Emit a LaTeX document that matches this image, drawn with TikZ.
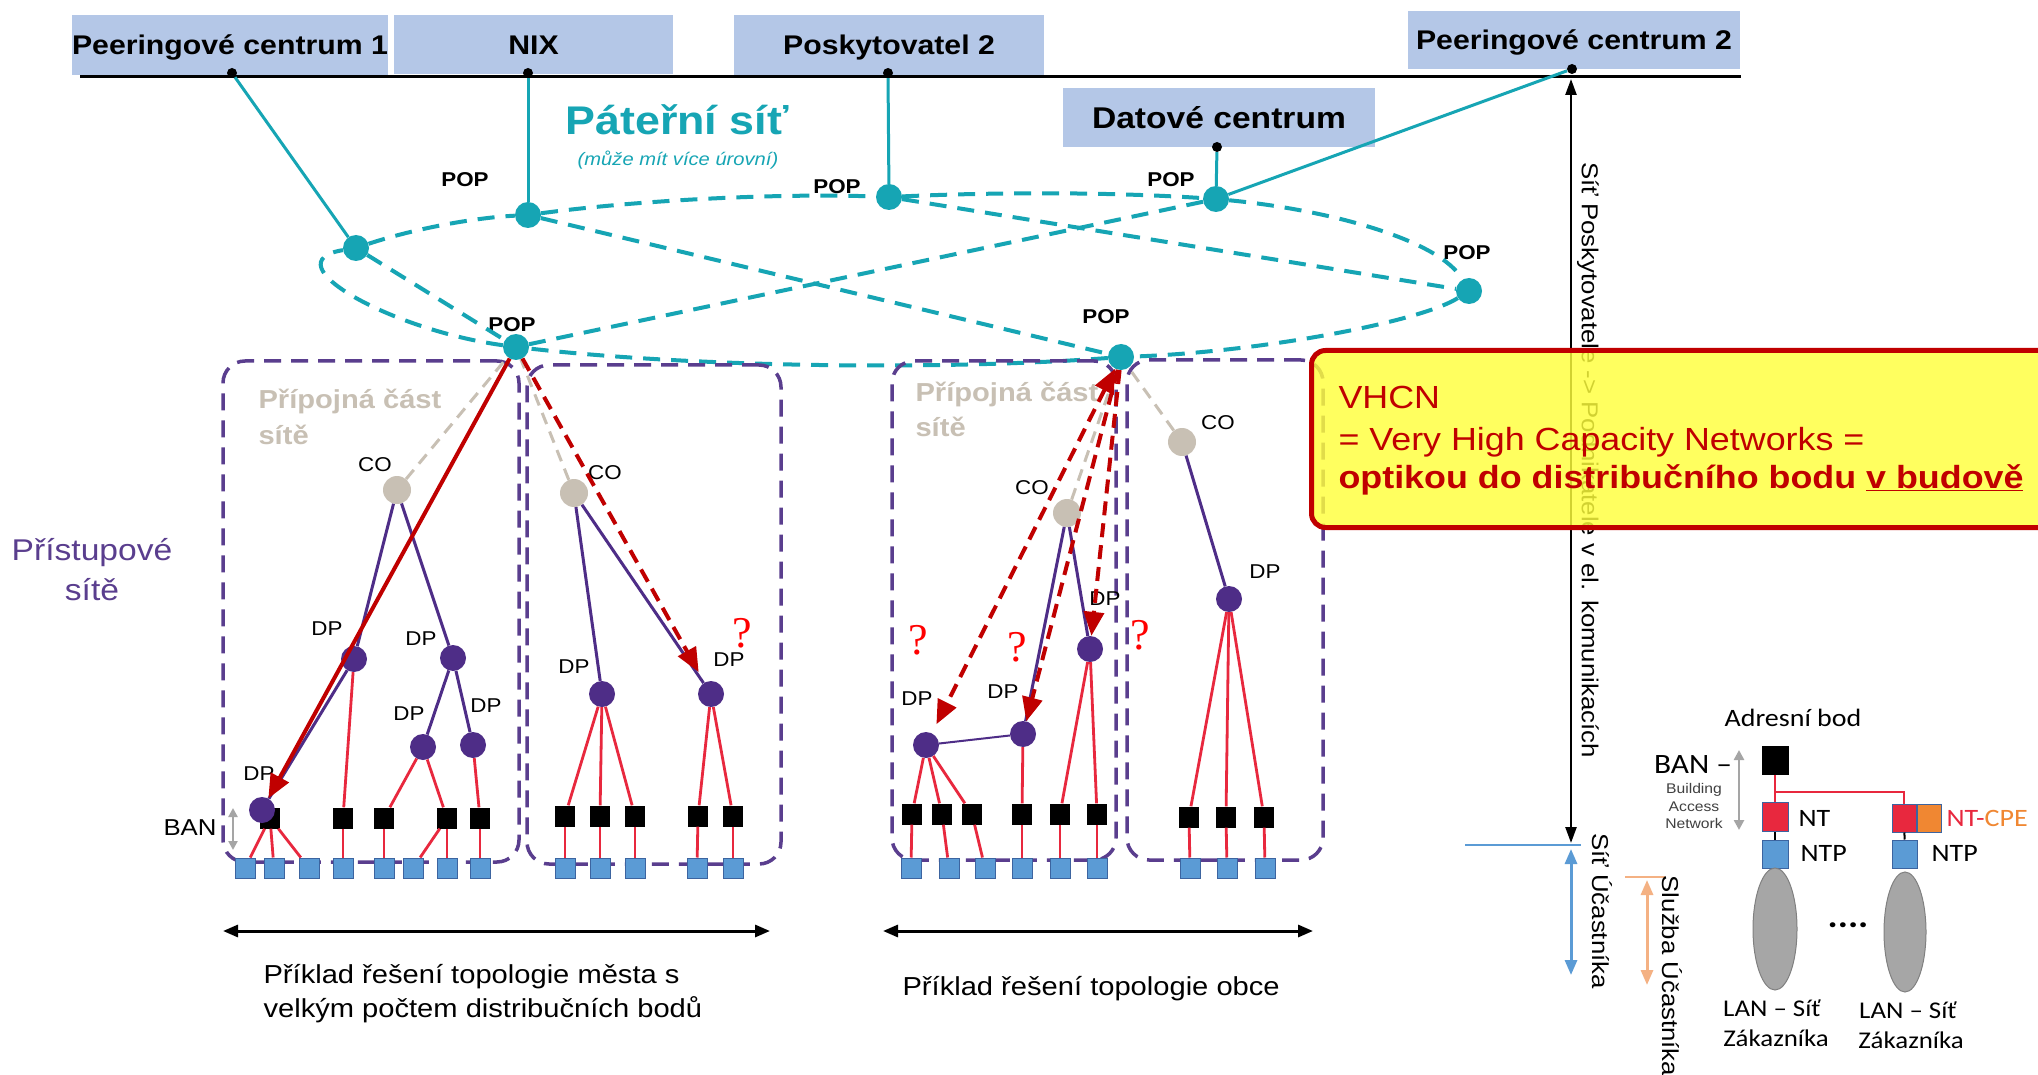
\documentclass[tikz,border=0pt]{standalone}
\usepackage{fontspec}
\setmainfont{Liberation Sans}[FakeStretch=1.12]
\newfontfamily\carl{Carlito}[FakeStretch=1.12]
\newfontfamily\qfont{Liberation Serif}
\usetikzlibrary{arrows.meta,shapes.geometric}
\definecolor{hdrblue}{RGB}{180,199,231}
\definecolor{popteal}{RGB}{22,165,180}
\definecolor{boxpurple}{RGB}{90,62,142}
\definecolor{dppurple}{RGB}{78,45,135}
\definecolor{redline}{RGB}{232,40,62}
\definecolor{darkred}{RGB}{192,0,0}
\definecolor{cobeige}{RGB}{200,192,180}
\definecolor{blsq}{RGB}{91,155,213}
\definecolor{blsqb}{RGB}{60,100,160}
\definecolor{arrgray}{RGB}{165,165,165}
\definecolor{lightorange}{RGB}{244,177,131}
\definecolor{cpeorange}{RGB}{240,135,50}
\definecolor{vyellow}{RGB}{255,255,60}
\definecolor{langray}{RGB}{166,166,166}
\begin{document}
\begin{tikzpicture}[x=1pt,y=-1pt,
  hdr/.style={fill=hdrblue,inner sep=0pt,text height=19.5pt,text depth=0pt,font=\bfseries\fontsize{27}{30}\selectfont},
  blk/.style={circle,fill=black,inner sep=0pt,minimum size=10pt},
  pop/.style={circle,fill=popteal,inner sep=0pt,minimum size=26pt},
  poplab/.style={font=\bfseries\fontsize{20}{22}\selectfont},
  lab/.style={font=\fontsize{20}{22}\selectfont},
  teall/.style={draw=popteal,line width=3pt},
  teald/.style={draw=popteal,line width=4pt,dash pattern=on 17pt off 11pt},
  co/.style={circle,fill=cobeige,inner sep=0pt,minimum size=28pt},
  dpn/.style={circle,fill=dppurple,inner sep=0pt,minimum size=26pt},
  ksq/.style={fill=black,inner sep=0pt,minimum width=20pt,minimum height=21pt},
  usq/.style={fill=blsq,draw=blsqb,line width=1pt,inner sep=0pt,minimum width=20pt,minimum height=20pt},
  purl/.style={draw=dppurple,line width=3pt},
  redl/.style={draw=redline,line width=2.8pt},
  cod/.style={draw=cobeige,line width=3pt,dash pattern=on 12pt off 8pt},
  accbox/.style={draw=boxpurple,line width=3.5pt,dash pattern=on 17pt off 10pt,rounded corners=22pt,inner sep=0pt},
  rarr/.style={draw=darkred,line width=4pt,-{Triangle[length=24pt,width=20pt]}},
  rdarr/.style={rarr,dash pattern=on 14pt off 8pt},
  qm/.style={text=red,font=\qfont\fontsize{44}{44}\selectfont},
  pct/.style={anchor=base west,text=cobeige,font=\bfseries\fontsize{26}{30}\selectfont},
  btxt/.style={anchor=base west,font=\fontsize{26}{30}\selectfont},
  vtxt/.style={rotate=-90,font=\fontsize{23}{25}\selectfont},
  leg/.style={font=\carl\fontsize{25}{27}\selectfont},
  vh/.style={anchor=base west,text=darkred,font=\fontsize{32}{36}\selectfont},
]
\useasboundingbox (0,0) rectangle (2038,1075);
\fill[white] (0,0) rectangle (2038,1075);

% ---------- header boxes ----------
\node[hdr,minimum width=316pt,minimum height=60pt] (peer1) at (230,45) {Peeringové centrum 1};
\node[hdr,minimum width=279pt,minimum height=59pt] (nix) at (533.5,44.5) {NIX};
\node[hdr,minimum width=310pt,minimum height=60pt] (posk) at (889,45) {Poskytovatel 2};
\node[hdr,minimum width=332pt,minimum height=58pt] (peer2) at (1574,40) {Peeringové centrum 2};
\node[hdr,minimum width=312pt,minimum height=59pt,text height=21.5pt,font=\bfseries\fontsize{30}{32}\selectfont] (dc) at (1219,118) {Datové centrum};

\coordinate (tl) at (80,77);
\coordinate (tr) at (1741,77);
\draw[line width=3pt] (tl) -- (tr);

\node[blk] (d1) at (232,73) {};
\node[blk] (d2) at (528,73) {};
\node[blk] (d3) at (888,73) {};
\node[blk] (d4) at (1572,69) {};
\node[blk] (d5) at (1217,147) {};

% ---------- POPs ----------
\node[pop] (P1) at (356,248) {};
\node[pop] (P2) at (528,215) {};
\node[pop] (P3) at (889,197) {};
\node[pop] (P4) at (1216,199) {};
\node[pop] (P5) at (1469,291) {};
\node[pop] (P6) at (1121,357) {};
\node[pop] (P7) at (516,347) {};

\node[poplab] (lP2) at (465,180) {POP};
\node[poplab] (lP3) at (837,187) {POP};
\node[poplab] (lP7) at (512,325) {POP};
\node[poplab] (lP4) at (1171,180) {POP};
\node[poplab] (lP5) at (1467,253) {POP};
\node[poplab] (lP6) at (1106,317) {POP};

\node[text=popteal,font=\bfseries\fontsize{40}{44}\selectfont] (title) at (677,120) {Páteřní síť};
\node[text=popteal,font=\itshape\fontsize{18}{20}\selectfont] (sub) at (678,160) {(může mít více úrovní)};

\draw[teall] (d1) -- (P1);
\draw[teall] (d2) -- (P2);
\draw[teall] (d3) -- (P3);
\draw[teall] (d5) -- (P4);
\draw[teall] (d4) -- (P4);

\draw[teald] (P1) .. controls (410,230) and (470,218) .. (P2);
\draw[teald] (P2) .. controls (640,200) and (780,193) .. (P3);
\draw[teald] (P3) .. controls (1000,192) and (1110,192) .. (P4);
\draw[teald] (P4) .. controls (1330,210) and (1440,240) .. (P5);
\draw[teald] (P5) .. controls (1420,322) and (1260,352) .. (P6);
\draw[teald] (P6) .. controls (950,370) and (700,368) .. (P7);
\draw[teald] (P7) .. controls (390,330) and (270,262) .. (P1);
\draw[teald] (P1) -- (P7);
\draw[teald] (P2) -- (P6);
\draw[teald] (P7) -- (P4);
\draw[teald] (P3) -- (P5);

% ---------- access boxes ----------
\node[accbox,minimum width=296pt,minimum height=501pt] (boxA) at (371,611.5) {};
\node[accbox,minimum width=254pt,minimum height=499pt] (boxB) at (654,614.5) {};
\node[accbox,minimum width=224pt,minimum height=499pt] (boxC) at (1004,610.5) {};
\node[accbox,minimum width=196pt,minimum height=500pt] (boxD) at (1225,610) {};

\node[pct] (pcA1) at (255,408) {Přípojná část};
\node[pct] (pcA2) at (255,444) {sítě};
\node[pct] (pcC1) at (912,401) {Přípojná část};
\node[pct] (pcC2) at (912,436) {sítě};

\node[text=boxpurple,font=\fontsize{30}{40}\selectfont,align=center] (pristup) at (92,570) {Přístupové\\sítě};

% ---------- squares ----------
\foreach \n/\x/\y in {k1/270/818,k2/343/818,k3/384/818,k4/447/818,k5/480/818,
  k6/565/816,k7/600/816,k8/635/816,k9/698/816,k10/733/816,
  k11/912/814,k12/942/814,k13/972/814,k14/1022/814,k15/1060/814,k16/1097/814,
  k17/1189/817,k18/1226/817,k19/1264/817}
  \node[ksq] (\n) at (\x,\y) {};
\foreach \n/\x in {u1/245,u2/274,u3/309,u4/343,u5/384,u6/413,u7/447,u8/480,
  u9/565,u10/600,u11/635,u12/697,u13/733,
  u14/911,u15/949,u16/985,u17/1022,u18/1060,u19/1097,
  u20/1190,u21/1227,u22/1265}
  \node[usq] (\n) at (\x,868) {};

% ---------- CO / DP ----------
\node[co] (coA) at (397,490) {};
\node[co] (coB) at (574,493) {};
\node[co] (coC) at (1067,513) {};
\node[co] (coD) at (1182,442) {};
\node[lab] (lcoA) at (375,465) {CO};
\node[lab] (lcoB) at (605,473) {CO};
\node[lab] (lcoC) at (1032,488) {CO};
\node[lab] (lcoD) at (1218,423) {CO};

\node[dpn] (DP1) at (354,659) {};
\node[dpn] (DP2) at (453,658) {};
\node[dpn] (DP3) at (423,747) {};
\node[dpn] (DP4) at (473,745) {};
\node[dpn] (DP5) at (262,810) {};
\node[dpn] (DP6) at (602,694) {};
\node[dpn] (DP7) at (711,694) {};
\node[dpn] (DP8) at (926,745) {};
\node[dpn] (DP9) at (1023,734) {};
\node[dpn] (DP10) at (1090,649) {};
\node[dpn] (DP11) at (1229,599) {};

\node[lab] (lDP1) at (327,629) {DP};
\node[lab] (lDP2) at (421,639) {DP};
\node[lab] (lDP3) at (409,714) {DP};
\node[lab] (lDP4) at (486,706) {DP};
\node[lab] (lDP5) at (259,774) {DP};
\node[lab] (lDP6) at (574,667) {DP};
\node[lab] (lDP7) at (729,660) {DP};
\node[lab] (lDP8) at (917,699) {DP};
\node[lab] (lDP9) at (1003,692) {DP};
\node[lab] (lDP10) at (1105,599) {DP};
\node[lab] (lDP11) at (1265,572) {DP};

% gray dashed CO links
\draw[cod] (coA) -- (P7);
\draw[cod] (coB) -- (P7);
\draw[cod] (coC) -- (P6);
\draw[cod] (coD) -- (P6);

% purple links
\draw[purl] (coA) -- (DP1);
\draw[purl] (coA) -- (DP2);
\draw[purl] (DP2) -- (DP3);
\draw[purl] (DP2) -- (DP4);
\draw[purl] (DP1) -- (DP5);
\draw[purl] (coB) -- (DP6);
\draw[purl] (coB) -- (DP7);
\draw[purl] (coC) -- (DP9);
\draw[purl] (coC) -- (DP10);
\draw[draw=dppurple,line width=2pt] (DP8) -- (DP9);
\draw[purl] (coD) -- (DP11);

% red links
\foreach \a/\b in {k1/u1,k1/u2,k1/u3,DP1/k2,k2/u4,DP3/k3,DP3/k4,k3/u5,k4/u6,k4/u7,DP4/k5,k5/u8,
  DP6/k6,DP6/k7,DP6/k8,k6/u9,k7/u10,k8/u11,DP7/k9,DP7/k10,k9/u12,k10/u13,
  DP8/k11,DP8/k12,DP8/k13,k11/u14,k12/u15,k13/u16,DP9/k14,k14/u17,
  DP10/k15,DP10/k16,k15/u18,k16/u19,
  DP11/k17,DP11/k18,DP11/k19,k17/u20,k18/u21,k19/u22}
  \draw[redl] (\a) -- (\b);

% red arrows
\draw[rarr] (P7) -- (DP5);
\draw[rdarr,shorten >=12pt] (P7) -- (DP7);
\draw[rdarr,shorten >=10pt,{Triangle[length=24pt,width=20pt]}-{Triangle[length=24pt,width=20pt]}] (P6) -- (DP8);
\draw[rdarr] (P6) -- (DP9);
\draw[rdarr] (P6) -- (DP10);

\node[qm] (q1) at (742,633) {?};
\node[qm] (q2) at (918,640) {?};
\node[qm] (q3) at (1017,647) {?};
\node[qm] (q4) at (1140,635) {?};

% BAN left
\node[font=\fontsize{23}{25}\selectfont] (banl) at (190,828) {BAN};
\coordinate (ban1) at (233,808);
\coordinate (ban2) at (233,850);
\draw[arrgray,line width=2.5pt,{Triangle[length=9pt,width=9pt]}-{Triangle[length=9pt,width=9pt]}] (ban1) -- (ban2);

% bottom arrows and captions
\coordinate (la1) at (223,931);
\coordinate (la2) at (770,931);
\coordinate (ra1) at (883,931);
\coordinate (ra2) at (1313,931);
\draw[line width=3pt,{Triangle[length=15pt,width=12pt]}-{Triangle[length=15pt,width=12pt]}] (la1) -- (la2);
\draw[line width=3pt,{Triangle[length=15pt,width=12pt]}-{Triangle[length=15pt,width=12pt]}] (ra1) -- (ra2);
\node[btxt] (t1) at (260,983) {Příklad řešení topologie města s};
\node[btxt] (t2) at (260,1017) {velkým počtem distribučních bodů};
\node[btxt] (t3) at (899,995) {Příklad řešení topologie obce};

% right vertical arrows
\coordinate (va1) at (1571,79);
\coordinate (va2) at (1571,843);
\draw[line width=2.5pt,{Triangle[length=16pt,width=11pt]}-{Triangle[length=16pt,width=11pt]}] (va1) -- (va2);
\node[vtxt] (vt) at (1588,460) {Síť Poskytovatele -> Podnikatele v el. komunikacích};

\coordinate (bl1) at (1465,845);
\coordinate (bl2) at (1581,845);
\draw[blsq,line width=2.5pt] (bl1) -- (bl2);
\coordinate (ba1) at (1571,849);
\coordinate (ba2) at (1571,975);
\draw[blsq,line width=3pt,{Triangle[length=15pt,width=12pt]}-{Triangle[length=15pt,width=12pt]}] (ba1) -- (ba2);
\node[vtxt] (su) at (1602,911) {Síť Účastníka};

\coordinate (ol1) at (1625,877);
\coordinate (ol2) at (1665,877);
\draw[lightorange,line width=2.5pt] (ol1) -- (ol2);
\coordinate (oa1) at (1647,880);
\coordinate (oa2) at (1647,985);
\draw[lightorange,line width=3pt,{Triangle[length=15pt,width=12pt]}-{Triangle[length=15pt,width=12pt]}] (oa1) -- (oa2);
\node[vtxt] (sl) at (1672,976) {Služba Účastníka};

% ---------- legend ----------
\node[leg,font=\carl\fontsize{25}{27}\selectfont] (adr) at (1793,718) {Adresní bod};
\node[fill=black,inner sep=0pt,minimum width=27pt,minimum height=29pt] (ab) at (1775,760) {};
\node[leg,font=\carl\fontsize{28}{30}\selectfont] (banr) at (1693,765) {BAN –};
\coordinate (ga1) at (1739,750);
\coordinate (ga2) at (1739,830);
\draw[arrgray,line width=2.5pt,{Triangle[length=10pt,width=10pt]}-{Triangle[length=10pt,width=10pt]}] (ga1) -- (ga2);
\node[align=center,text=black!75,font=\fontsize{14}{17.5}\selectfont] (bann) at (1694,806) {Building\\Access\\Network};

\node[fill=redline,draw=blsqb,line width=1pt,inner sep=0pt,minimum width=26pt,minimum height=29pt] (nt1) at (1775,817) {};
\node[fill=blsq,draw=blsqb,line width=1pt,inner sep=0pt,minimum width=26pt,minimum height=28pt] (ntp1) at (1775,854) {};
\node[fill=redline,draw=blsqb,line width=1pt,inner sep=0pt,minimum width=24pt,minimum height=28pt] (nt2) at (1904,818) {};
\node[fill=cpeorange,draw=blsqb,line width=1pt,inner sep=0pt,minimum width=24pt,minimum height=28pt] (ntc) at (1929,818) {};
\node[fill=blsq,draw=blsqb,line width=1pt,inner sep=0pt,minimum width=25pt,minimum height=28pt] (ntp2) at (1905,854) {};
\coordinate (jn) at (1775,792);
\draw[redl] (ab) -- (nt1);
\draw[redl] (jn) -| (nt2);
\draw[line width=2pt] (nt1) -- (ntp1);
\draw[line width=2pt] (nt2) -- (ntp2);

\node[ellipse,fill=langray,draw=gray,line width=1pt,inner sep=0pt,minimum width=44pt,minimum height=122pt] (lan1) at (1775,929) {};
\node[ellipse,fill=langray,draw=gray,line width=1pt,inner sep=0pt,minimum width=42pt,minimum height=120pt] (lan2) at (1905,932) {};

\node[leg,anchor=west] (ntl) at (1795,818) {NT};
\node[leg,anchor=west] (ntpl1) at (1797,853) {NTP};
\node[leg,anchor=west] (ntpl2) at (1928,853) {NTP};
\node[leg,anchor=west] (cpel) at (1943,818) {\textcolor{redline}{NT-}\textcolor{cpeorange}{CPE}};
\node[leg,font=\carl\bfseries\fontsize{34}{34}\selectfont] (dots) at (1848,925) {....};
\node[leg,font=\carl\fontsize{24}{26}\selectfont] (lanl1) at (1772,1008) {LAN – Síť};
\node[leg,font=\carl\fontsize{24}{26}\selectfont] (zak1) at (1776,1038) {Zákazníka};
\node[leg,font=\carl\fontsize{24}{26}\selectfont] (lanl2) at (1908,1010) {LAN – Síť};
\node[leg,font=\carl\fontsize{24}{26}\selectfont] (zak2) at (1911,1040) {Zákazníka};

% ---------- VHCN box ----------
\node[draw=darkred,line width=5pt,fill=vyellow,fill opacity=0.82,draw opacity=1,rounded corners=14pt,inner sep=0pt,minimum width=760pt,minimum height=177pt,anchor=north west] (vhcn) at (1309,348) {};
\node[vh] (v1) at (1335,408) {VHCN};
\node[vh] (v2) at (1335,450) {= Very High Capacity Networks =};
\node[vh,font=\bfseries\fontsize{32}{36}\selectfont] (v3) at (1335,488) {optikou do distribučního bodu \underline{v budově}};
\end{tikzpicture}
\end{document}
